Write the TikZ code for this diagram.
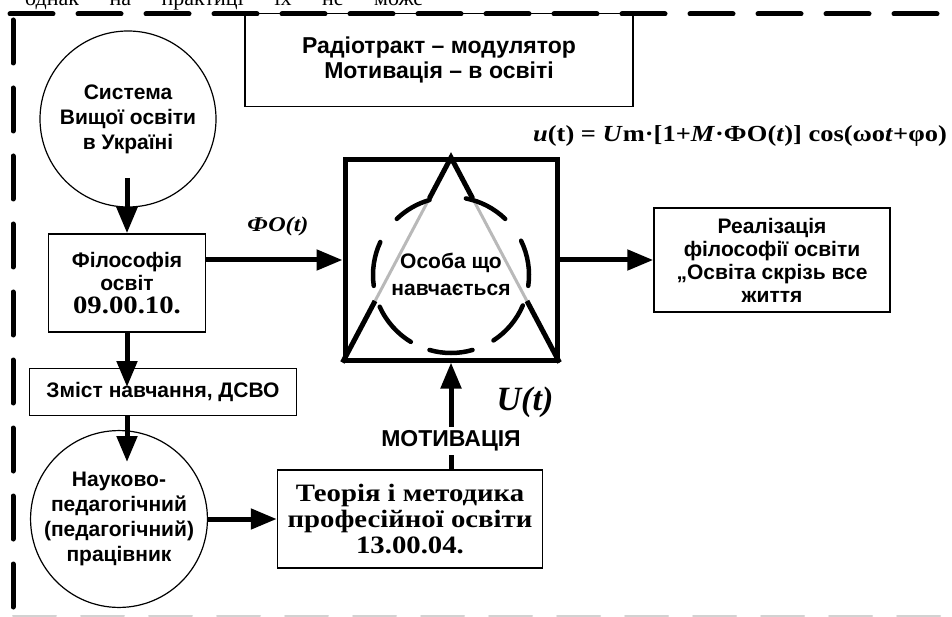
\documentclass[tikz,border=0pt]{standalone}
\usepackage{fontspec}
\setmainfont{Liberation Serif}
\setsansfont{Liberation Sans}
\newfontfamily\wideSerif[FakeStretch=1.15]{Liberation Serif}
\usetikzlibrary{arrows.meta}
\usetikzlibrary{calc}
\newcommand{\sansLabel}{\sffamily\bfseries\fontsize{21}{23}\selectfont}
\newcommand{\roundLabel}{\sffamily\bfseries\fontsize{21}{25}\selectfont}
\newcommand{\bigSansLabel}{\sffamily\bfseries\fontsize{23}{25}\selectfont}
\newcommand{\serifLabel}{\wideSerif\bfseries\fontsize{25}{26}\selectfont}

\begin{document}
\begin{tikzpicture}
[x=1pt,y=-1pt,%
  lineDecorate/.style={line width=5pt,-{Triangle[length=26pt,width=20pt]}},%
  plainDecorate/.style={line width=5pt},%
  boxDecorate/.style={draw,line width=1.5pt,align=center,inner sep=0pt,font=\sansLabel},%
  circleDecorate/.style={draw,circle,line width=1.2pt,align=center,inner sep=0pt,font=\roundLabel},%
  borderDecorate/.style={line width=5pt,dash pattern=on 43pt off 25pt,line cap=round}]
\useasboundingbox (0,0) rectangle (952,617);
%% text line cut by the page edge
\node[anchor=base west,inner sep=0pt,font=\rmfamily\fontsize{22}{22}\selectfont] (topline) at (25,6)
  {\makebox[398pt][s]{однак на практиці їх не може}};
%% dashed frame
\draw[borderDecorate] (10,14) -- (965,14);
\draw[borderDecorate] (13,20) -- (13,612);
\draw[borderDecorate,line width=2pt,gray!35] (13,616) -- (965,616);
%% nodes
\node[boxDecorate,font=\bigSansLabel,minimum width=388pt,minimum height=93pt] (radio) at (439,60)
  {Радіотракт – модулятор\\Мотивація – в освіті};
\node[circleDecorate,minimum size=176pt] (sys) at (128,119) {Система\\Вищої освіти\\в Україні};
\node[boxDecorate,minimum width=157pt,minimum height=98pt] (phil) at (127,283)
  {Філософія\\освіт\\{\serifLabel 09.00.10.}};
\node[boxDecorate,minimum width=267pt,minimum height=47pt] (zmist) at (163,392) {Зміст навчання, ДСВО};
\node[circleDecorate,minimum size=164pt] (nauk) at (119,519)
  {Науково-\\педагогічний\\(педагогічний)\\працівник};
\node[boxDecorate,minimum width=265pt,minimum height=98pt,font=\serifLabel] (teor) at (410,519)
  {Теорія і методика\\професійної освіти\\13.00.04.};
\node[draw,line width=5pt,minimum width=212pt,minimum height=200pt] (osoba) at (451,260) {};
\node[boxDecorate,minimum width=236pt,minimum height=104pt] (real) at (772,260)
  {Реалізація\\філософії освіти\\„Освіта скрізь все\\життя};
%% triangle and dashed ring in the square
\coordinate (ring) at (451,275);
\draw[gray!55,line width=3pt] (osoba.south west) -- (osoba.north) -- (osoba.south east);
\draw[plainDecorate] ($(osoba.north)!0.2!(osoba.south west)$) -- (osoba.north)
  -- ($(osoba.north)!0.2!(osoba.south east)$);
\draw[plainDecorate] ($(osoba.north)!0.7!(osoba.south west)$) -- (osoba.south west);
\draw[plainDecorate] ($(osoba.north)!0.7!(osoba.south east)$) -- (osoba.south east);
\foreach \a/\b in {-8/26,46/79,106/134,155/188,204/239,254/286,303/337}
  \draw[line width=4.5pt,line cap=round] ($(ring)+(\a:78pt)$) arc[start angle=\a,end angle=\b,radius=78pt];
\node[font=\roundLabel,align=center] (osobaText) at (451,274) {Особа що\\[2pt]навчається};
%% labels
\node[font=\wideSerif\bfseries\itshape\fontsize{21}{21}\selectfont] (fo) at (278,226) {ФО(t)};
\node[font=\rmfamily\bfseries\itshape\fontsize{34}{34}\selectfont] (ut) at (525,402) {U(t)};
\node[font=\bigSansLabel] (motiv) at (451,441) {МОТИВАЦІЯ};
\node[anchor=west,inner sep=0pt,font=\wideSerif\bfseries\fontsize{23}{23}\selectfont] (formula) at (533,136)
  {\textit{u}(t) = \textit{U}m·[1+\textit{M}·ФО(\textit{t})] cos(ωo\textit{t}+φo)};
%% connectors
\coordinate (sysFoot) at (127,178);
\coordinate (zmistIn) at (127,387);
\coordinate (naukIn) at (127,462);
\draw[lineDecorate] (sysFoot) -- (phil.north);
\draw[lineDecorate] (phil.south) -- (zmistIn);
\draw[lineDecorate] (zmist.south -| phil.south) -- (naukIn);
\draw[lineDecorate] (phil.east |- osoba.west) -- (osoba.west);
\draw[lineDecorate] (osoba.east) -- (real.west);
\draw[lineDecorate] (nauk.east |- teor.west) -- (teor.west);
\draw[plainDecorate] (teor.north -| motiv) -- (motiv.south);
\draw[lineDecorate] (motiv.north) -- (osoba.south);
\end{tikzpicture}
\end{document}
